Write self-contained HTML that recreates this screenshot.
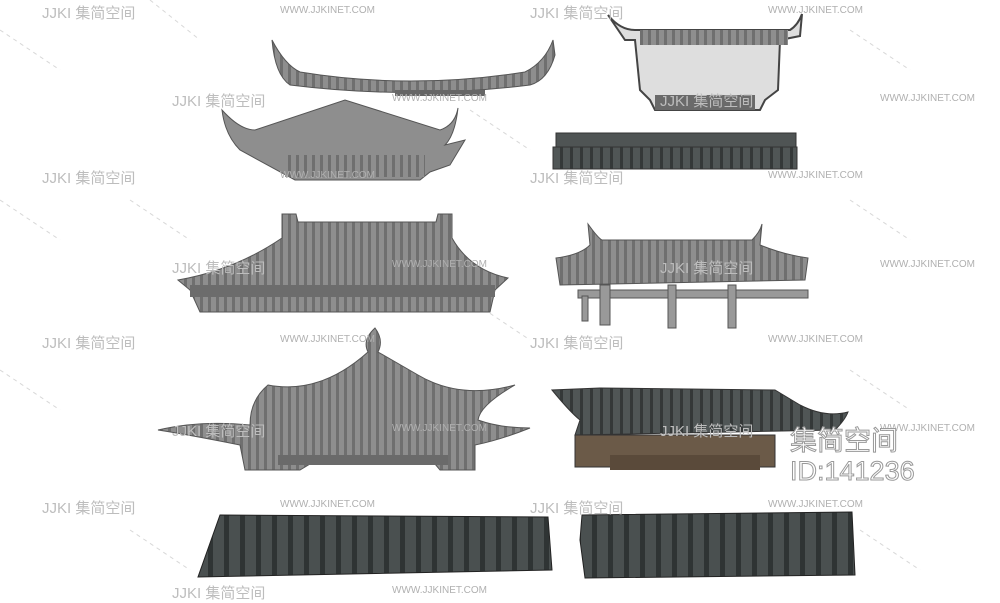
<!DOCTYPE html>
<html><head><meta charset="utf-8"><style>
html,body{margin:0;padding:0;background:#fff;width:1000px;height:594px;overflow:hidden}
.wm{position:absolute;font-family:"Liberation Sans","Noto Sans CJK SC",sans-serif;color:#bdbdbd;font-size:15px;white-space:nowrap}
.url{position:absolute;font-family:"Liberation Sans",sans-serif;color:#b0b0b0;font-size:10px;white-space:nowrap}
</style></head><body>
<svg width="1000" height="594" style="position:absolute;left:0;top:0">
<defs>
<pattern id="vs" width="8" height="10" patternUnits="userSpaceOnUse"><rect width="8" height="10" fill="#8e8e8e"/><rect width="3" height="10" fill="#6f6f6f"/></pattern>
<pattern id="vd" width="16" height="10" patternUnits="userSpaceOnUse"><rect width="16" height="10" fill="#4a5050"/><rect width="5" height="10" fill="#2f3434"/></pattern>
<pattern id="vg" width="10" height="10" patternUnits="userSpaceOnUse"><rect width="10" height="10" fill="#505656"/><rect width="3" height="10" fill="#343838"/></pattern>
</defs>
<g stroke="#d8d8d8" stroke-width="1" stroke-dasharray="4,4" fill="none">
<line x1="0" y1="30" x2="60" y2="70"/><line x1="150" y1="0" x2="200" y2="40"/><line x1="470" y1="110" x2="530" y2="150"/>
<line x1="850" y1="30" x2="910" y2="70"/><line x1="0" y1="200" x2="60" y2="240"/><line x1="130" y1="200" x2="190" y2="240"/>
<line x1="850" y1="200" x2="910" y2="240"/><line x1="0" y1="370" x2="60" y2="410"/><line x1="850" y1="370" x2="910" y2="410"/>
<line x1="130" y1="530" x2="190" y2="570"/><line x1="860" y1="530" x2="920" y2="570"/><line x1="470" y1="300" x2="530" y2="340"/>
</g>
<!-- 1 curved ridge -->
<path d="M272,40 Q285,65 300,72 Q410,90 525,72 Q545,62 553,40 L555,55 Q548,80 530,85 Q410,100 290,85 Q275,75 272,40Z" fill="url(#vs)" stroke="#555"/>
<rect x="395" y="90" width="90" height="6" fill="#666"/>
<!-- 2 roof -->
<path d="M222,110 Q240,130 255,130 L345,100 L440,130 Q455,125 458,108 Q455,135 445,145 L465,140 L450,165 L430,172 L420,180 L295,180 L240,150 Q225,135 222,110Z" fill="#8e8e8e" stroke="#555"/>
<rect x="285" y="155" width="140" height="22" fill="url(#vs)"/>
<!-- 3 wall -->
<path d="M608,15 Q620,30 635,30 L790,30 Q798,25 802,14 L800,36 L780,40 L778,90 L765,100 L760,110 L655,110 L650,100 L640,90 L635,40 L625,40Z" fill="#dedede" stroke="#444" stroke-width="2"/>
<rect x="640" y="30" width="148" height="15" fill="url(#vs)"/>
<rect x="655" y="95" width="100" height="15" fill="#6a6a6a"/>
<!-- 4 dark ridge -->
<rect x="556" y="133" width="240" height="14" fill="#4f5454" stroke="#333"/>
<rect x="553" y="147" width="244" height="22" fill="url(#vg)" stroke="#333"/>
<!-- 5 roof -->
<path d="M282,214 L296,214 L298,222 L436,222 L438,214 L452,214 L452,238 Q470,270 508,278 L495,290 L490,312 L200,312 L190,290 L178,280 Q235,270 282,238Z" fill="url(#vs)" stroke="#555"/>
<rect x="190" y="285" width="305" height="12" fill="#6c6c6c"/>
<!-- 6 gate -->
<path d="M588,224 Q598,238 602,240 L752,240 Q760,232 762,224 L760,245 Q785,255 808,258 L805,280 L560,285 L556,258 Q580,255 590,245Z" fill="url(#vs)" stroke="#555"/>
<g fill="#999" stroke="#555"><rect x="578" y="290" width="230" height="8"/><rect x="600" y="285" width="10" height="40"/><rect x="668" y="285" width="8" height="43"/><rect x="728" y="285" width="8" height="43"/><rect x="582" y="296" width="6" height="25"/></g>
<!-- 7 pavilion -->
<path d="M375,328 Q384,340 378,352 L418,375 Q460,400 515,385 Q480,405 478,420 Q500,428 530,428 Q500,440 475,445 L475,470 L440,470 L430,458 L320,458 L300,470 L245,470 L240,445 Q190,435 158,430 Q200,420 250,425 Q250,400 268,385 Q320,395 368,352 Q362,340 375,328Z" fill="url(#vs)" stroke="#555"/>
<rect x="278" y="455" width="170" height="10" fill="#6a6a6a"/>
<!-- 8 dark roof -->
<path d="M552,390 Q570,412 580,420 L575,435 L835,430 Q845,420 848,412 Q825,418 800,405 L775,390 L600,388Z" fill="url(#vg)" stroke="#333"/>
<rect x="575" y="435" width="200" height="32" fill="#6b5a48" stroke="#333"/>
<rect x="610" y="455" width="150" height="15" fill="#5a4a3a"/>
<!-- 9 tile panel -->
<path d="M220,515 L548,517 L552,570 L198,577Z" fill="url(#vd)" stroke="#222"/>
<!-- 10 tile panel -->
<path d="M582,515 L852,512 L855,575 L585,578 L580,540Z" fill="url(#vd)" stroke="#222"/>
</svg>
<div class="wm" style="left:42px;top:2px">JJKI 集简空间</div><div class="wm" style="left:530px;top:2px">JJKI 集简空间</div>
<div class="wm" style="left:172px;top:90px">JJKI 集简空间</div><div class="wm" style="left:660px;top:90px">JJKI 集简空间</div>
<div class="wm" style="left:42px;top:167px">JJKI 集简空间</div><div class="wm" style="left:530px;top:167px">JJKI 集简空间</div>
<div class="wm" style="left:172px;top:257px">JJKI 集简空间</div><div class="wm" style="left:660px;top:257px">JJKI 集简空间</div>
<div class="wm" style="left:42px;top:332px">JJKI 集简空间</div><div class="wm" style="left:530px;top:332px">JJKI 集简空间</div>
<div class="wm" style="left:172px;top:420px">JJKI 集简空间</div><div class="wm" style="left:660px;top:420px">JJKI 集简空间</div>
<div class="wm" style="left:42px;top:497px">JJKI 集简空间</div><div class="wm" style="left:530px;top:497px">JJKI 集简空间</div>
<div class="wm" style="left:172px;top:582px">JJKI 集简空间</div>
<div class="url" style="left:280px;top:5px">WWW.JJKINET.COM</div><div class="url" style="left:768px;top:5px">WWW.JJKINET.COM</div>
<div class="url" style="left:392px;top:93px">WWW.JJKINET.COM</div><div class="url" style="left:880px;top:93px">WWW.JJKINET.COM</div>
<div class="url" style="left:280px;top:170px">WWW.JJKINET.COM</div><div class="url" style="left:768px;top:170px">WWW.JJKINET.COM</div>
<div class="url" style="left:392px;top:259px">WWW.JJKINET.COM</div><div class="url" style="left:880px;top:259px">WWW.JJKINET.COM</div>
<div class="url" style="left:280px;top:334px">WWW.JJKINET.COM</div><div class="url" style="left:768px;top:334px">WWW.JJKINET.COM</div>
<div class="url" style="left:392px;top:423px">WWW.JJKINET.COM</div><div class="url" style="left:880px;top:423px">WWW.JJKINET.COM</div>
<div class="url" style="left:280px;top:499px">WWW.JJKINET.COM</div><div class="url" style="left:768px;top:499px">WWW.JJKINET.COM</div>
<div class="url" style="left:392px;top:585px">WWW.JJKINET.COM</div>
<div style="position:absolute;left:790px;top:426px;font-family:'Liberation Sans','Noto Sans CJK SC',sans-serif;font-size:27px;line-height:30px;color:#fff;-webkit-text-stroke:1px #999">集简空间<br>ID:141236</div>
</body></html>
